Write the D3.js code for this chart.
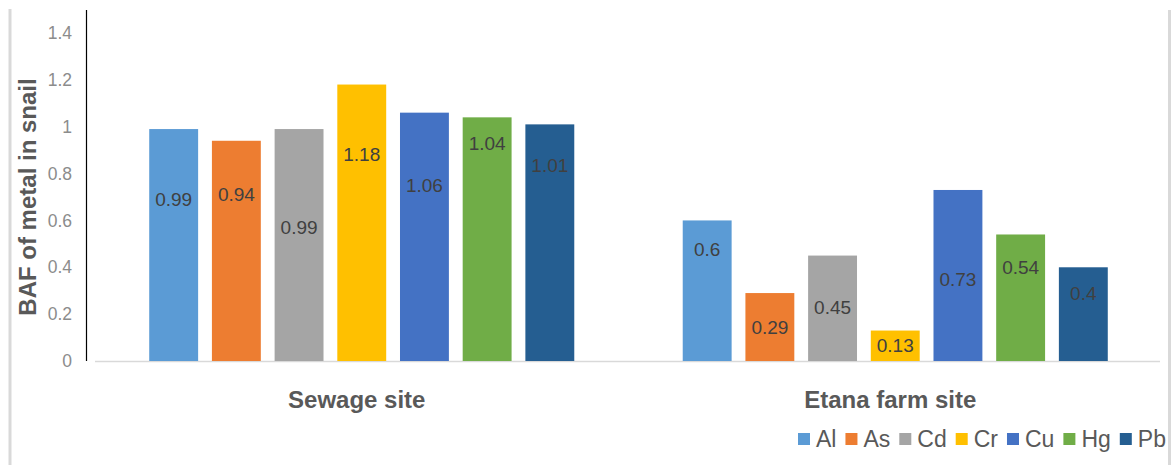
<!DOCTYPE html>
<html>
<head>
<meta charset="utf-8">
<script src="https://cdn.jsdelivr.net/npm/d3@7"></script>
<style>
  body { margin: 0; background: #fff; }
  svg { display: block; font-family: "Liberation Sans", Arial, sans-serif; }
</style>
</head>
<body>
<svg id="chart" width="1172" height="465"></svg>
<script>
//* Data
const sites = ["Sewage site", "Etana farm site"];
const metals = ["Al", "As", "Cd", "Cr", "Cu", "Hg", "Pb"];
const sewageBaf = [0.99, 0.94, 0.99, 1.18, 1.06, 1.04, 1.01];
const etanaBaf = [0.6, 0.29, 0.45, 0.13, 0.73, 0.54, 0.4];
// where the data labels sit, in BAF units (they were moved by hand in the original)
const sewageLabelAt = [0.69, 0.71, 0.57, 0.88, 0.75, 0.93, 0.835];
const etanaLabelAt = [0.478, 0.142, 0.231, 0.065, 0.349, 0.399, 0.288];
const yTicks = [0, 0.2, 0.4, 0.6, 0.8, 1, 1.2, 1.4];
const colors = ["#5B9BD5", "#ED7D31", "#A5A5A5", "#FFC000", "#4472C4", "#70AD47", "#255E91"];

const rows = [
  { site: sites[0], values: sewageBaf, labelAt: sewageLabelAt },
  { site: sites[1], values: etanaBaf, labelAt: etanaLabelAt }
];

//* Chart area
const plot = { left: 95, right: 1162, top: 33, bottom: 361 };

const svg = d3.select("#chart");

// frame remnants
svg.append("line")
  .attr("x1", 10).attr("x2", 10).attr("y1", 9).attr("y2", 465)
  .attr("stroke", "#d9d9d9").attr("stroke-width", 3);
svg.append("line")
  .attr("x1", 1169.5).attr("x2", 1169.5).attr("y1", 10).attr("y2", 465)
  .attr("stroke", "#d9d9d9").attr("stroke-width", 3);

const x0 = d3.scaleBand()
  .domain(sites)
  .range([plot.left, plot.right]);

const x1 = d3.scaleBand()
  .domain(metals)
  .range([0, x0.bandwidth()])
  .paddingInner(0.22)
  .paddingOuter(0.865);

const y = d3.scaleLinear()
  .domain([0, 1.4])
  .range([plot.bottom, plot.top]);

const color = d3.scaleOrdinal().domain(metals).range(colors);

//* Y axis
const yAxis = svg.append("g")
  .attr("transform", "translate(86,0)")
  .call(d3.axisLeft(y).tickValues(yTicks).tickSize(0).tickPadding(14).tickFormat(d => String(d)));
yAxis.select(".domain").remove();
yAxis.selectAll("text")
  .attr("font-size", "17.5px")
  .attr("font-family", "Liberation Sans, Arial, sans-serif")
  .attr("fill", "#8c8c8c");

svg.append("line")
  .attr("x1", 86.5).attr("x2", 86.5)
  .attr("y1", 10).attr("y2", y(0))
  .attr("stroke", "#000").attr("stroke-width", 1.2);

// baseline
svg.append("line")
  .attr("x1", plot.left).attr("x2", 1160)
  .attr("y1", y(0) + 0.5).attr("y2", y(0) + 0.5)
  .attr("stroke", "#d9d9d9").attr("stroke-width", 1.5);

svg.append("text")
  .attr("transform", `translate(36, 197) rotate(-90)`)
  .attr("text-anchor", "middle")
  .attr("font-size", "24px")
  .attr("font-weight", "bold")
  .attr("fill", "#595959")
  .text("BAF of metal in snail");

//* Bars
const groups = svg.selectAll(".site")
  .data(rows)
  .enter()
  .append("g")
  .attr("class", "site")
  .attr("transform", d => `translate(${x0(d.site)},0)`);

groups.selectAll(".bar")
  .data(d => d.values.map((v, i) => ({ metal: metals[i], value: v })))
  .enter()
  .append("rect")
  .attr("class", "bar")
  .attr("x", d => x1(d.metal))
  .attr("y", d => y(d.value))
  .attr("width", x1.bandwidth())
  .attr("height", d => y(0) - y(d.value))
  .attr("fill", d => color(d.metal));

groups.selectAll(".label")
  .data(d => d.values.map((v, i) => ({ metal: metals[i], value: v, at: d.labelAt[i] })))
  .enter()
  .append("text")
  .attr("class", "label")
  .attr("x", d => x1(d.metal) + x1.bandwidth() / 2)
  .attr("y", d => y(d.at))
  .attr("dy", "0.35em")
  .attr("text-anchor", "middle")
  .attr("font-size", "19px")
  .attr("fill", "#404040")
  .text(d => d.value);

//* Category labels
svg.selectAll(".cat")
  .data(sites)
  .enter()
  .append("text")
  .attr("class", "cat")
  .attr("x", d => x0(d) + x0.bandwidth() / 2 - 5)
  .attr("y", 408)
  .attr("text-anchor", "middle")
  .attr("font-size", "24px")
  .attr("font-weight", "bold")
  .attr("fill", "#595959")
  .text(d => d);

//* Legend
const legend = svg.append("g").attr("transform", "translate(798,0)");
let lx = 0;
metals.forEach(m => {
  const item = legend.append("g").attr("transform", `translate(${lx},0)`);
  item.append("rect")
    .attr("x", 0).attr("y", 433)
    .attr("width", 12).attr("height", 12)
    .attr("fill", color(m));
  const t = item.append("text")
    .attr("x", 18).attr("y", 447)
    .attr("font-size", "23px")
    .attr("fill", "#595959")
    .text(m);
  lx += 18 + t.node().getComputedTextLength() + 9;
});
</script>
</body>
</html>
